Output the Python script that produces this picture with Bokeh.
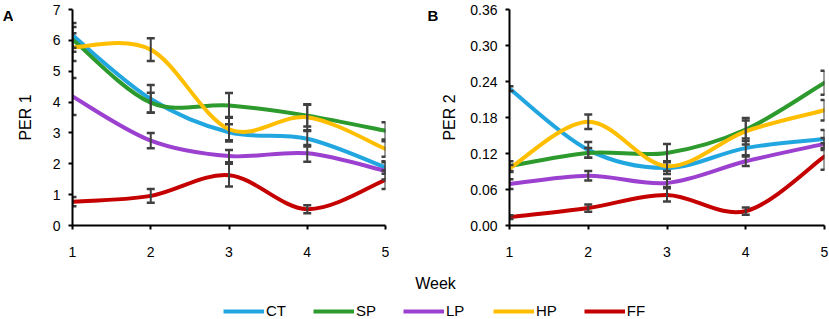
from bokeh.plotting import figure
from bokeh.layouts import column, row
from bokeh.models import Range1d, FixedTicker, Label, Legend, LegendItem, ColumnDataSource
from bokeh.embed import file_html
from bokeh.resources import INLINE

# ---------------- data ----------------
weeks = [1, 2, 3, 4, 5]
groups = ["CT", "SP", "LP", "HP", "FF"]
colors = ["#22A6E0", "#2C9A2C", "#9B40CF", "#FFBF00", "#C40000"]

# PER 1 (panel A): means and error (+/-)
per1_ct = [6.16, 4.10, 3.02, 2.81, 1.88]
per1_sp = [6.03, 3.98, 3.89, 3.56, 3.07]
per1_lp = [4.18, 2.75, 2.25, 2.34, 1.77]
per1_hp = [5.78, 5.70, 3.12, 3.51, 2.48]
per1_ff = [0.77, 0.96, 1.63, 0.53, 1.48]
per1_ct_err = [0.40, 0.45, 0.26, 0.25, 0.20]
per1_sp_err = [0.40, 0.32, 0.40, 0.35, 0.28]
per1_lp_err = [0.60, 0.25, 0.20, 0.27, 0.28]
per1_hp_err = [0.45, 0.37, 0.40, 0.42, 0.25]
per1_ff_err = [0.15, 0.22, 0.37, 0.13, 0.30]

# PER 2 (panel B): means and error (+/-)
per2_ct = [0.228, 0.126, 0.096, 0.129, 0.144]
per2_sp = [0.099, 0.121, 0.121, 0.160, 0.238]
per2_lp = [0.069, 0.083, 0.071, 0.107, 0.136]
per2_hp = [0.095, 0.173, 0.099, 0.157, 0.192]
per2_ff = [0.014, 0.029, 0.051, 0.024, 0.115]
per2_ct_err = [0.004, 0.013, 0.010, 0.012, 0.015]
per2_sp_err = [0.008, 0.008, 0.015, 0.015, 0.020]
per2_lp_err = [0.008, 0.008, 0.007, 0.008, 0.010]
per2_hp_err = [0.006, 0.012, 0.008, 0.022, 0.017]
per2_ff_err = [0.003, 0.006, 0.011, 0.006, 0.022]

per1_ticks = [0, 1, 2, 3, 4, 5, 6, 7]
per1_tick_labels = ["0", "1", "2", "3", "4", "5", "6", "7"]
per2_ticks = [0.0, 0.06, 0.12, 0.18, 0.24, 0.30, 0.36]
per2_tick_labels = ["0.00", "0.06", "0.12", "0.18", "0.24", "0.30", "0.36"]
week_tick_labels = ["1", "2", "3", "4", "5"]

FONT = "Liberation Sans"
ERR_COLOR = "#404040"
TOP_H = 270


def smooth_segments(xs, ys):
    """Cubic Bezier control points (Catmull-Rom style) for a smoothed line."""
    n = len(xs)
    out = dict(x0=[], y0=[], x1=[], y1=[], cx0=[], cy0=[], cx1=[], cy1=[])
    for i in range(n - 1):
        xp, yp = (xs[i - 1], ys[i - 1]) if i > 0 else (xs[i], ys[i])
        xn, yn = (xs[i + 2], ys[i + 2]) if i + 2 < n else (xs[i + 1], ys[i + 1])
        out["x0"].append(xs[i]); out["y0"].append(ys[i])
        out["x1"].append(xs[i + 1]); out["y1"].append(ys[i + 1])
        out["cx0"].append(xs[i] + (xs[i + 1] - xp) / 6.0)
        out["cy0"].append(ys[i] + (ys[i + 1] - yp) / 6.0)
        out["cx1"].append(xs[i + 1] - (xn - xs[i]) / 6.0)
        out["cy1"].append(ys[i + 1] - (yn - ys[i]) / 6.0)
    return out


def blank(width, height):
    f = figure(width=width, height=height, output_backend="svg", toolbar_location=None,
               x_range=Range1d(0, width), y_range=Range1d(0, height),
               x_axis_type=None, y_axis_type=None,
               min_border_left=0, min_border_right=0, min_border_top=0, min_border_bottom=0)
    f.title = None
    f.outline_line_color = None
    f.grid.visible = False
    return f


def letter_fig(width, letter, x):
    f = blank(width, TOP_H)
    f.add_layout(Label(x=x, y=TOP_H - 8, text=letter, text_font=FONT,
                       text_font_size="15px", text_font_style="bold",
                       text_baseline="alphabetic", text_color="black"))
    return f


def make_panel(width, border_left, border_right, y_max, ticks, tick_labels,
               ylabel, series, errs, label_standoff):
    p = figure(width=width, height=TOP_H, output_backend="svg", toolbar_location=None,
               x_range=Range1d(1, 5), y_range=Range1d(0, y_max),
               min_border_left=border_left, min_border_right=border_right,
               min_border_top=9, min_border_bottom=45)
    p.title = None
    p.outline_line_color = None
    p.grid.visible = False
    p.background_fill_color = "white"

    for ax in (p.xaxis, p.yaxis):
        ax.axis_line_color = "black"
        ax.axis_line_width = 2
        ax.major_tick_line_color = "black"
        ax.major_tick_line_width = 2
        ax.major_tick_out = 4
        ax.major_tick_in = 0
        ax.minor_tick_line_color = None
        ax.major_label_text_font = FONT
        ax.major_label_text_font_size = "14px"
        ax.major_label_text_color = "black"

    p.xaxis.ticker = FixedTicker(ticks=weeks)
    p.xaxis.major_label_overrides = {w: l for w, l in zip(weeks, week_tick_labels)}
    p.xaxis.major_label_standoff = 17

    p.yaxis.ticker = FixedTicker(ticks=ticks)
    p.yaxis.major_label_overrides = {t: l for t, l in zip(ticks, tick_labels)}
    p.yaxis.major_label_standoff = 8
    p.yaxis.axis_label = ylabel
    p.yaxis.axis_label_text_font = FONT
    p.yaxis.axis_label_text_font_size = "16px"
    p.yaxis.axis_label_text_font_style = "normal"
    p.yaxis.axis_label_text_color = "black"
    p.yaxis.axis_label_standoff = label_standoff

    for ys, c in zip(series, colors):
        seg = smooth_segments(weeks, ys)
        p.bezier(source=ColumnDataSource(seg), x0="x0", y0="y0", x1="x1", y1="y1",
                 cx0="cx0", cy0="cy0", cx1="cx1", cy1="cy1",
                 line_color=c, line_width=4, line_cap="round")

    for ys, es in zip(series, errs):
        lo = [y - e for y, e in zip(ys, es)]
        hi = [y + e for y, e in zip(ys, es)]
        p.segment(x0=weeks, y0=lo, x1=weeks, y1=hi, line_color=ERR_COLOR, line_width=2)
        p.scatter(x=weeks + weeks, y=lo + hi, marker="dash", size=8,
                  line_color=ERR_COLOR, line_width=2.5)
    return p


lA = letter_fig(13, "A", 2.3)
pA = make_panel(397, 59, 25, 7, per1_ticks, per1_tick_labels, "PER 1",
                [per1_ct, per1_sp, per1_lp, per1_hp, per1_ff],
                [per1_ct_err, per1_sp_err, per1_lp_err, per1_hp_err, per1_ff_err],
                16)
lB = letter_fig(28, "B", 17)
pB = make_panel(391, 70, 5, 0.36, per2_ticks, per2_tick_labels, "PER 2",
                [per2_ct, per2_sp, per2_lp, per2_hp, per2_ff],
                [per2_ct_err, per2_sp_err, per2_lp_err, per2_hp_err, per2_ff_err],
                9)

# bottom strip: shared x label and legend
pC = blank(829, 49)
pC.add_layout(Label(x=435, y=36, text="Week", text_font=FONT, text_font_size="16px",
                    text_align="center", text_baseline="middle", text_color="black"))

nan = float("nan")
items = []
for g, c in zip(groups, colors):
    r = pC.line(x=[nan], y=[nan], line_color=c, line_width=4)
    items.append(LegendItem(label=g, renderers=[r]))
legend = Legend(items=items, orientation="horizontal", location=(223, 0),
                glyph_width=41, glyph_height=12, label_height=12, label_standoff=2,
                spacing=27, padding=0, margin=0, border_line_color=None,
                background_fill_alpha=0, label_text_font=FONT,
                label_text_font_size="15px", label_text_color="black")
pC.add_layout(legend)

layout = column(row(lA, pA, lB, pB, spacing=0), pC, spacing=0)

with open("out.html", "w") as f:
    f.write(file_html(layout, INLINE))
